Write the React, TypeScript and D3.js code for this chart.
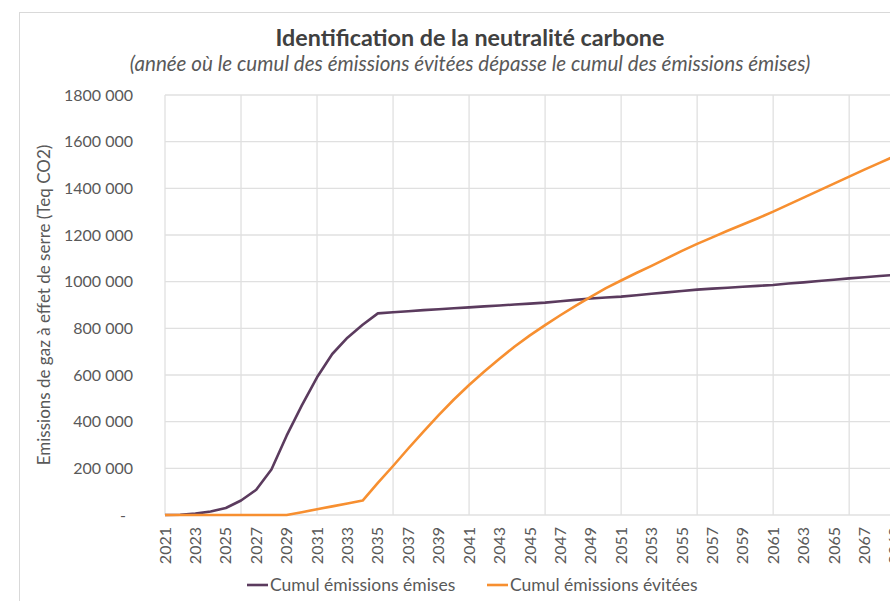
import React from "react";
import * as d3 from "d3";

const years = d3.range(2021, 2071);

// cumulative emissions emitted (t CO2 eq)
const cumulEmises = [
  0, 1000, 6000, 15000, 30000, 62000, 108000, 195000, 340000, 470000,
  590000, 690000, 760000, 815000, 864000, 869000, 873000, 878000, 882000, 886000,
  890000, 894000, 898000, 902000, 906000, 910000, 916000, 922000, 928000, 932000,
  936000, 942000, 948000, 954000, 960000, 966000, 970000, 974000, 978000, 982000,
  986000, 992000, 997000, 1003000, 1008000, 1014000, 1019000, 1024000, 1029000, 1034000,
];

// cumulative emissions avoided
const cumulEvitees = [
  0, 0, 0, 0, 0, 0, 0, 0, 0, 12000,
  25000, 37000, 49000, 62000, 138000, 210000, 285000, 357000, 428000, 495000,
  557000, 615000, 670000, 722000, 770000, 814000, 856000, 896000, 935000, 972000,
  1005000, 1037000, 1068000, 1100000, 1132000, 1162000, 1190000, 1218000, 1245000, 1272000,
  1300000, 1330000, 1360000, 1390000, 1420000, 1450000, 1480000, 1509000, 1538000, 1567000,
];

const yTicks = [0, 200000, 400000, 600000, 800000, 1000000, 1200000, 1400000, 1600000, 1800000];
const yTickLabels = ["-", "200 000", "400 000", "600 000", "800 000", "1000 000", "1200 000", "1400 000", "1600 000", "1800 000"];

const seriesNames = ["Cumul émissions émises", "Cumul émissions évitées"];
const seriesColors = ["#5b3b5e", "#f78f30"];

const W = 890;
const H = 601;
const left = 165;
const right = 910;
const top = 95;
const bottom = 515;
const font = "Lato, 'Open Sans', sans-serif";
const textCol = "#595959";
const gridCol = "#e0e0e0";

export default function App() {
  const x = d3.scalePoint<number>().domain(years).range([left, right]);
  const y = d3.scaleLinear().domain([0, 1800000]).range([bottom, top]);

  const line = d3
    .line<number>()
    .x((_, i) => x(years[i]) as number)
    .y((d) => y(d));

  const series = [cumulEmises, cumulEvitees];
  const gridYears = years.filter((_, i) => i % 5 === 0);
  const labelYears = years.filter((_, i) => i % 2 === 0);

  return (
    <div style={{ position: "absolute", left: 0, top: 0 }}>
      <svg width={W} height={H} style={{ display: "block", background: "#fff" }}>
        <rect x={19.5} y={12.5} width={1000} height={700} fill="#fff" stroke="#d9d9d9" />

        <text x={470} y={46} textAnchor="middle" fontFamily={font} fontWeight="bold" fontSize={23.3} fill="#404040">
          Identification de la neutralité carbone
        </text>
        <text x={470} y={71} textAnchor="middle" fontFamily={font} fontStyle="italic" fontSize={20.6} fill={textCol}>
          (année où le cumul des émissions évitées dépasse le cumul des émissions émises)
        </text>

        {/* grid */}
        {yTicks.map((t) => (
          <line key={"gy" + t} x1={left} x2={right} y1={y(t)} y2={y(t)} stroke={gridCol} strokeWidth={1.3} />
        ))}
        {gridYears.map((yr) => (
          <line key={"gx" + yr} x1={x(yr)} x2={x(yr)} y1={top} y2={bottom} stroke={gridCol} strokeWidth={1.3} />
        ))}

        {/* y axis labels */}
        {yTicks.map((t, i) => (
          <text
            key={"yl" + t}
            x={t === 0 ? 126 : 133}
            y={y(t)}
            dy="0.35em"
            textAnchor="end"
            fontFamily={font}
            fontSize={16}
            fill={textCol}
          >
            {yTickLabels[i]}
          </text>
        ))}
        <text
          transform={`translate(44,${(top + bottom) / 2}) rotate(-90)`}
          textAnchor="middle"
          dy="0.35em"
          fontFamily={font}
          fontSize={17}
          fill={textCol}
        >
          Emissions de gaz à effet de serre (Teq CO2)
        </text>

        {/* x axis labels */}
        {labelYears.map((yr) => (
          <text
            key={"xl" + yr}
            transform={`translate(${x(yr)},${bottom + 12}) rotate(-90)`}
            textAnchor="end"
            dy="0.35em"
            fontFamily={font}
            fontSize={16}
            fill={textCol}
          >
            {yr}
          </text>
        ))}

        {/* lines */}
        {series.map((s, i) => (
          <path
            key={"s" + i}
            d={line(s) || ""}
            fill="none"
            stroke={seriesColors[i]}
            strokeWidth={2.6}
            strokeLinejoin="round"
          />
        ))}

        {/* legend */}
        {seriesNames.map((name, i) => {
          const lx = i === 0 ? 247 : 487;
          return (
            <g key={"lg" + i}>
              <line x1={lx} x2={lx + 21} y1={585} y2={585} stroke={seriesColors[i]} strokeWidth={2.6} />
              <text x={lx + 23} y={585} dy="0.35em" fontFamily={font} fontSize={17.5} fill={textCol}>
                {name}
              </text>
            </g>
          );
        })}
      </svg>
    </div>
  );
}
